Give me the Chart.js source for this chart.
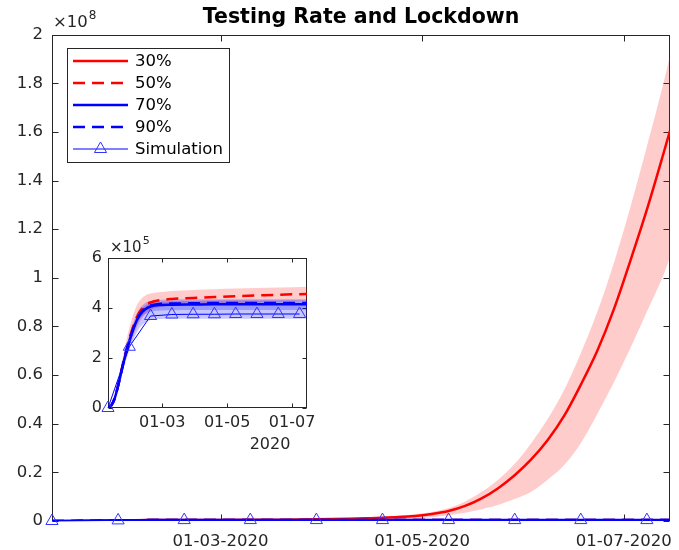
<!DOCTYPE html>
<html>
<head>
<meta charset="utf-8">
<script src="https://cdn.jsdelivr.net/npm/chart.js@4.4.1/dist/chart.umd.min.js"></script>
<style>
  html, body { margin: 0; padding: 0; background: #fff; }
  #wrap { position: relative; width: 679px; height: 550px; }
  #main { position: absolute; left: 0; top: 0; }
  #inset { position: absolute; left: 60px; top: 236px; }
</style>
</head>
<body>
<div id="wrap">
  <canvas id="main" width="679" height="550"></canvas>
  <canvas id="inset" width="260" height="224"></canvas>
</div>
<script>
// asse x: giorni a partire dal 10-01-2020
const tickDays = [51, 112, 173];
const tickLabelsMain = ['01-03-2020', '01-05-2020', '01-07-2020'];
const tickLabelsInset = ['01-03', '01-05', '01-07'];
const yTicksMain = [0, 0.2, 0.4, 0.6, 0.8, 1, 1.2, 1.4, 1.6, 1.8, 2]; // x 10^8
const yTicksInset = [0, 2, 4, 6];                                      // x 10^5
const legendLabels = ['30%', '50%', '70%', '90%', 'Simulation'];

// 30% (grafico principale, x 10^8)
const days30 = [0, 10, 20, 30, 40, 50, 60, 70, 80, 85, 90, 95, 100, 105, 110, 115, 120, 125, 130, 135, 140, 145, 150, 155, 160, 165, 170, 175, 180, 185, 187];
const rate30 = [0, 0.0007, 0.0025, 0.0037, 0.0041, 0.0043, 0.0047, 0.0055, 0.0068, 0.0078, 0.0092, 0.011, 0.013, 0.016, 0.021, 0.029, 0.041, 0.062, 0.093, 0.135, 0.188, 0.253, 0.333, 0.433, 0.56, 0.70, 0.87, 1.07, 1.28, 1.51, 1.605];
const rate30Hi = [0, 0.0008, 0.003, 0.0045, 0.005, 0.0055, 0.0062, 0.0075, 0.0095, 0.011, 0.013, 0.016, 0.019, 0.023, 0.028, 0.037, 0.053, 0.08, 0.12, 0.17, 0.235, 0.32, 0.42, 0.54, 0.69, 0.86, 1.06, 1.29, 1.54, 1.80, 1.914];
const rate30Lo = [0, 0.0006, 0.002, 0.003, 0.0033, 0.0034, 0.0035, 0.0037, 0.004, 0.0045, 0.005, 0.0055, 0.0062, 0.0072, 0.0085, 0.016, 0.024, 0.034, 0.048, 0.066, 0.09, 0.12, 0.17, 0.23, 0.32, 0.44, 0.57, 0.71, 0.86, 1.01, 1.084];

// 50% / 70% / 90% (inserto, x 10^5)
const daysInset = [0, 3, 6, 9, 12, 15, 18, 21, 24, 27, 30, 35, 40, 50, 60, 80, 100, 120, 140, 160, 187];
const rate50 = [0, 0.1, 0.36, 0.82, 1.38, 1.95, 2.45, 2.9, 3.3, 3.62, 3.86, 4.1, 4.22, 4.32, 4.36, 4.4, 4.44, 4.47, 4.5, 4.53, 4.56];
const rate50Hi = [0, 0.12, 0.42, 0.95, 1.6, 2.25, 2.85, 3.35, 3.78, 4.1, 4.3, 4.5, 4.58, 4.64, 4.68, 4.72, 4.75, 4.78, 4.8, 4.82, 4.85];
const rate50Lo = [0, 0.08, 0.3, 0.7, 1.2, 1.7, 2.15, 2.55, 2.9, 3.2, 3.45, 3.75, 3.92, 4.05, 4.1, 4.15, 4.18, 4.2, 4.22, 4.25, 4.28];
const rate70 = [0, 0.1, 0.35, 0.8, 1.35, 1.9, 2.38, 2.8, 3.18, 3.5, 3.72, 3.95, 4.06, 4.12, 4.13, 4.14, 4.15, 4.15, 4.15, 4.15, 4.15];
const rate70Hi = [0, 0.12, 0.4, 0.9, 1.5, 2.1, 2.62, 3.05, 3.45, 3.78, 4.0, 4.2, 4.28, 4.33, 4.34, 4.35, 4.35, 4.35, 4.35, 4.35, 4.35];
const rate70Lo = [0, 0.08, 0.3, 0.68, 1.15, 1.62, 2.05, 2.42, 2.75, 3.02, 3.22, 3.42, 3.52, 3.56, 3.57, 3.57, 3.57, 3.57, 3.57, 3.57, 3.57];
const rate90 = [0, 0.1, 0.35, 0.8, 1.35, 1.9, 2.4, 2.83, 3.21, 3.53, 3.76, 4.0, 4.1, 4.17, 4.18, 4.19, 4.2, 4.2, 4.2, 4.2, 4.2];
const rate90Hi = [0, 0.11, 0.38, 0.86, 1.45, 2.02, 2.52, 2.96, 3.35, 3.66, 3.9, 4.1, 4.18, 4.25, 4.27, 4.28, 4.3, 4.3, 4.3, 4.3, 4.3];
const rate90Lo = [0, 0.09, 0.32, 0.74, 1.25, 1.76, 2.24, 2.66, 3.02, 3.32, 3.55, 3.76, 3.85, 3.9, 3.91, 3.92, 3.92, 3.92, 3.92, 3.92, 3.92];

// simulazione (x 10^5), un punto ogni 20 giorni
const simDays = [0, 20, 40, 60, 80, 100, 120, 140, 160, 180];
const simCases = [0, 2.45, 3.68, 3.74, 3.75, 3.75, 3.76, 3.76, 3.76, 3.76];

const FONT = 'DejaVu Sans';
const GRIGIO = '#262626';
Chart.defaults.font.family = FONT;
Chart.defaults.color = GRIGIO;

const pts = (xs, ys, k = 1) => xs.map((x, i) => ({ x: x, y: ys[i] * k }));

// box stile MATLAB con tick verso l'interno su tutti e quattro i lati
const assiMatlab = {
  id: 'assiMatlab',
  beforeDatasetsDraw(chart, args, opts) {
    const { ctx, chartArea: a, scales: { x, y } } = chart;
    const L = Math.round(a.left) + 0.5, R = Math.round(a.right) - 0.5;
    const T = Math.round(a.top) + 0.5, B = Math.round(a.bottom) - 0.5;
    const len = opts.tickLen || 6;
    ctx.save();
    ctx.fillStyle = '#fff';
    ctx.fillRect(a.left, a.top, a.width, a.height);
    ctx.strokeStyle = GRIGIO;
    ctx.lineWidth = 1;
    ctx.strokeRect(L, T, R - L, B - T);
    ctx.beginPath();
    x.ticks.forEach(t => {
      const px = Math.round(x.getPixelForValue(t.value)) + 0.5;
      ctx.moveTo(px, B); ctx.lineTo(px, B - len);
      ctx.moveTo(px, T); ctx.lineTo(px, T + len);
    });
    y.ticks.forEach(t => {
      const py = Math.round(y.getPixelForValue(t.value)) + 0.5;
      ctx.moveTo(L, py); ctx.lineTo(L + len, py);
      ctx.moveTo(R, py); ctx.lineTo(R - len, py);
    });
    ctx.stroke();
    ctx.restore();
  }
};

function esponente(ctx, x, y, base, exp, size) {
  ctx.save();
  ctx.fillStyle = GRIGIO;
  ctx.textBaseline = 'middle';
  ctx.textAlign = 'left';
  ctx.font = size + 'px ' + FONT;
  ctx.fillText(base, x, y);
  const w = ctx.measureText(base).width;
  ctx.font = Math.round(size * 0.75) + 'px ' + FONT;
  ctx.fillText(exp, x + w + 1, y - size * 0.45);
  ctx.restore();
}

function triangolo(ctx, x, y, r) {
  ctx.beginPath();
  ctx.moveTo(x, y - r);
  ctx.lineTo(x + r * 0.866, y + r * 0.5);
  ctx.lineTo(x - r * 0.866, y + r * 0.5);
  ctx.closePath();
  ctx.stroke();
}

const legendaMain = {
  id: 'legendaMain',
  afterDraw(chart) {
    const ctx = chart.ctx;
    esponente(ctx, 53, 23, '\u00d710', '8', 16.5);
    ctx.save();
    ctx.fillStyle = '#fff';
    ctx.fillRect(67.5, 48.5, 162, 114);
    ctx.strokeStyle = GRIGIO;
    ctx.lineWidth = 1;
    ctx.strokeRect(67.5, 48.5, 162, 114);
    legendLabels.forEach((lbl, i) => {
      const ds = chart.data.datasets.find(d => d.label === lbl);
      const yy = 61 + i * 22;
      ctx.strokeStyle = ds.borderColor;
      ctx.lineWidth = ds.borderWidth;
      ctx.setLineDash(ds.borderDash || []);
      ctx.beginPath();
      ctx.moveTo(73, yy); ctx.lineTo(128, yy);
      ctx.stroke();
      ctx.setLineDash([]);
      if (ds.pointRadius) {
        ctx.strokeStyle = ds.pointBorderColor;
        ctx.lineWidth = 1;
        triangolo(ctx, 100.5, yy, ds.pointRadius);
      }
      ctx.fillStyle = '#000';
      ctx.font = '16.5px ' + FONT;
      ctx.textBaseline = 'middle';
      ctx.fillText(lbl, 135, yy + 1);
    });
    ctx.restore();
  }
};

const extraInset = {
  id: 'extraInset',
  afterDraw(chart) {
    const ctx = chart.ctx;
    esponente(ctx, 50, 12, '\u00d710', '5', 15);
    ctx.save();
    ctx.fillStyle = GRIGIO;
    ctx.font = '16px ' + FONT;
    ctx.textAlign = 'center';
    ctx.textBaseline = 'middle';
    ctx.fillText('2020', 210, 209);
    ctx.restore();
  }
};

function linea(label, data, color, dash, order) {
  return {
    label: label, data: data, borderColor: color, borderWidth: 2.5,
    borderDash: dash, pointRadius: 0, cubicInterpolationMode: 'monotone',
    fill: false, order: order
  };
}
function banda(data, color, fill, order) {
  return {
    data: data, borderColor: 'rgba(0,0,0,0)', borderWidth: 0, pointRadius: 0,
    backgroundColor: color, fill: fill, cubicInterpolationMode: 'monotone',
    order: order
  };
}
function simulazione(data) {
  return {
    label: 'Simulation', data: data, borderColor: '#0000ff', borderWidth: 1,
    pointStyle: 'triangle', pointRadius: 7, pointBorderColor: '#3333ff',
    pointBorderWidth: 1, pointBackgroundColor: 'rgba(0,0,0,0)',
    tension: 0, fill: false, clip: false, order: 0
  };
}

function scalaX(labels, h, pad, size) {
  return {
    type: 'linear', min: 0, max: 187,
    afterBuildTicks: s => { s.ticks = tickDays.map(v => ({ value: v })); },
    afterFit: s => { s.height = h; s.paddingLeft = 0; s.paddingRight = 0; },
    grid: { display: false, drawTicks: false },
    border: { display: false },
    ticks: {
      callback: (v, i) => labels[i], autoSkip: false, maxRotation: 0,
      padding: pad, color: GRIGIO, font: { size: size }
    }
  };
}
function scalaY(vals, max, w, pad, size) {
  return {
    min: 0, max: max,
    afterBuildTicks: s => { s.ticks = vals.map(v => ({ value: v })); },
    afterFit: s => { s.width = w; s.paddingTop = 0; s.paddingBottom = 0; },
    grid: { display: false, drawTicks: false },
    border: { display: false },
    ticks: {
      callback: v => String(+v.toFixed(1)), padding: pad, color: GRIGIO,
      font: { size: size }
    }
  };
}

const k = 0.001; // da 10^5 a 10^8

new Chart(document.getElementById('main'), {
  type: 'line',
  data: {
    datasets: [
      simulazione(pts(simDays, simCases, k)),
      linea('90%', pts(daysInset, rate90, k), '#0000ff', [12, 7], 1),
      linea('70%', pts(daysInset, rate70, k), '#0000ff', [], 2),
      linea('50%', pts(daysInset, rate50, k), '#ff0000', [12, 7], 3),
      linea('30%', pts(days30, rate30), '#ff0000', [], 4),
      banda(pts(days30, rate30Hi), 'rgba(255,0,0,0.2)', '+1', 5),
      banda(pts(days30, rate30Lo), 'rgba(0,0,0,0)', false, 6)
    ]
  },
  options: {
    responsive: false,
    animation: false,
    layout: { padding: { top: 0, right: 9, left: 0, bottom: 0 } },
    plugins: {
      legend: { display: false },
      tooltip: { enabled: false },
      title: {
        display: true, text: 'Testing Rate and Lockdown', fullSize: false,
        color: '#000', font: { size: 20.5, weight: 'bold' },
        padding: { top: 5, bottom: 5 }
      },
      assiMatlab: { tickLen: 6 }
    },
    scales: {
      x: scalaX(tickLabelsMain, 29, 11, 16.5),
      y: scalaY(yTicksMain, 2, 52, 9, 16.5)
    }
  },
  plugins: [assiMatlab, legendaMain]
});

new Chart(document.getElementById('inset'), {
  type: 'line',
  data: {
    datasets: [
      simulazione(pts(simDays, simCases)),
      linea('90%', pts(daysInset, rate90), '#0000ff', [12, 7], 1),
      linea('70%', pts(daysInset, rate70), '#0000ff', [], 2),
      linea('50%', pts(daysInset, rate50), '#ff0000', [12, 7], 3),
      banda(pts(daysInset, rate90Hi), 'rgba(0,0,255,0.22)', '+1', 4),
      banda(pts(daysInset, rate90Lo), 'rgba(0,0,0,0)', false, 5),
      banda(pts(daysInset, rate70Hi), 'rgba(0,0,255,0.22)', '+1', 6),
      banda(pts(daysInset, rate70Lo), 'rgba(0,0,0,0)', false, 7),
      banda(pts(daysInset, rate50Hi), 'rgba(255,0,0,0.2)', '+1', 8),
      banda(pts(daysInset, rate50Lo), 'rgba(0,0,0,0)', false, 9)
    ]
  },
  options: {
    responsive: false,
    animation: false,
    layout: { padding: { top: 22, right: 13, left: 0, bottom: 0 } },
    plugins: {
      legend: { display: false },
      tooltip: { enabled: false },
      assiMatlab: { tickLen: 4 }
    },
    scales: {
      x: scalaX(tickLabelsInset, 52, 5, 16),
      y: scalaY(yTicksInset, 6, 48, 6, 16)
    }
  },
  plugins: [assiMatlab, extraInset]
});
</script>
</body>
</html>
